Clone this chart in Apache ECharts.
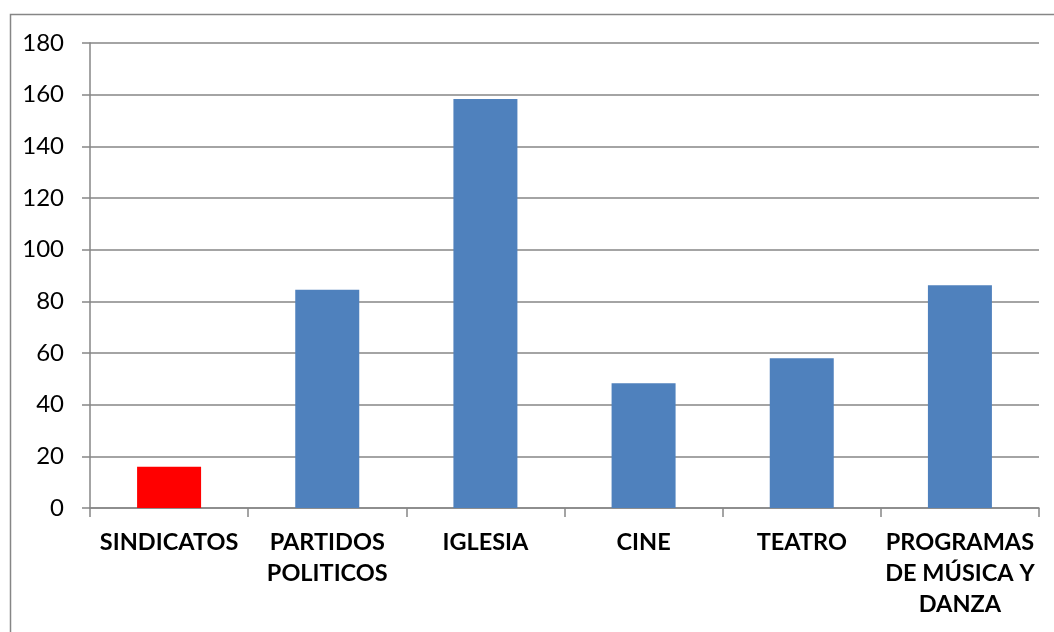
<!DOCTYPE html>
<html>
<head>
<meta charset="utf-8">
<script src="https://cdn.jsdelivr.net/npm/echarts@6/dist/echarts.min.js"></script>
<style>
html,body{margin:0;padding:0;background:#fff;}
#chart{width:1054px;height:632px;}
</style>
</head>
<body>
<div id="chart"></div>
<script>
const categories = ["SINDICATOS", "PARTIDOS\nPOLITICOS", "IGLESIA", "CINE", "TEATRO", "PROGRAMAS\nDE MÚSICA Y\nDANZA"];
const values = [16, 84.5, 158.3, 48.3, 58, 86.2];
const yTicks = { min: 0, max: 180, interval: 20 };

const chart = echarts.init(document.getElementById('chart'));
const grey = '#868686';
const font = 'Lato, "Open Sans", sans-serif';

chart.setOption({
  animation: false,
  backgroundColor: '#fff',
  graphic: [{
    type: 'rect',
    left: 8, top: 12,
    shape: { width: 1100, height: 700 },
    style: { fill: 'none', stroke: grey, lineWidth: 1.5 },
    silent: true
  }],
  grid: {
    left: 90, right: 15, top: 43, bottom: 124,
    containLabel: false, outerBoundsMode: 'none'
  },
  xAxis: {
    type: 'category',
    data: categories,
    boundaryGap: true,
    axisLine: { lineStyle: { color: grey, width: 1.5 } },
    axisTick: { show: true, length: 9, lineStyle: { color: grey, width: 1.5 } },
    axisLabel: {
      interval: 0, margin: 19,
      color: '#000', fontFamily: font, fontWeight: 'bold',
      fontSize: 23.5, lineHeight: 31, align: 'center'
    },
    splitLine: { show: false }
  },
  yAxis: {
    type: 'value',
    min: yTicks.min, max: yTicks.max, interval: yTicks.interval,
    axisLine: { show: true, lineStyle: { color: grey, width: 1.5 } },
    axisTick: { show: true, length: 8, lineStyle: { color: grey, width: 1.5 } },
    axisLabel: { margin: 26, color: '#000', fontFamily: font, fontSize: 24 },
    splitLine: { show: true, lineStyle: { color: grey, width: 1.5 } }
  },
  series: [{
    type: 'bar',
    data: values,
    barWidth: 64,
    itemStyle: {
      color: function (p) { return p.dataIndex === 0 ? '#FF0000' : '#4F81BD'; }
    }
  }]
});
</script>
</body>
</html>
